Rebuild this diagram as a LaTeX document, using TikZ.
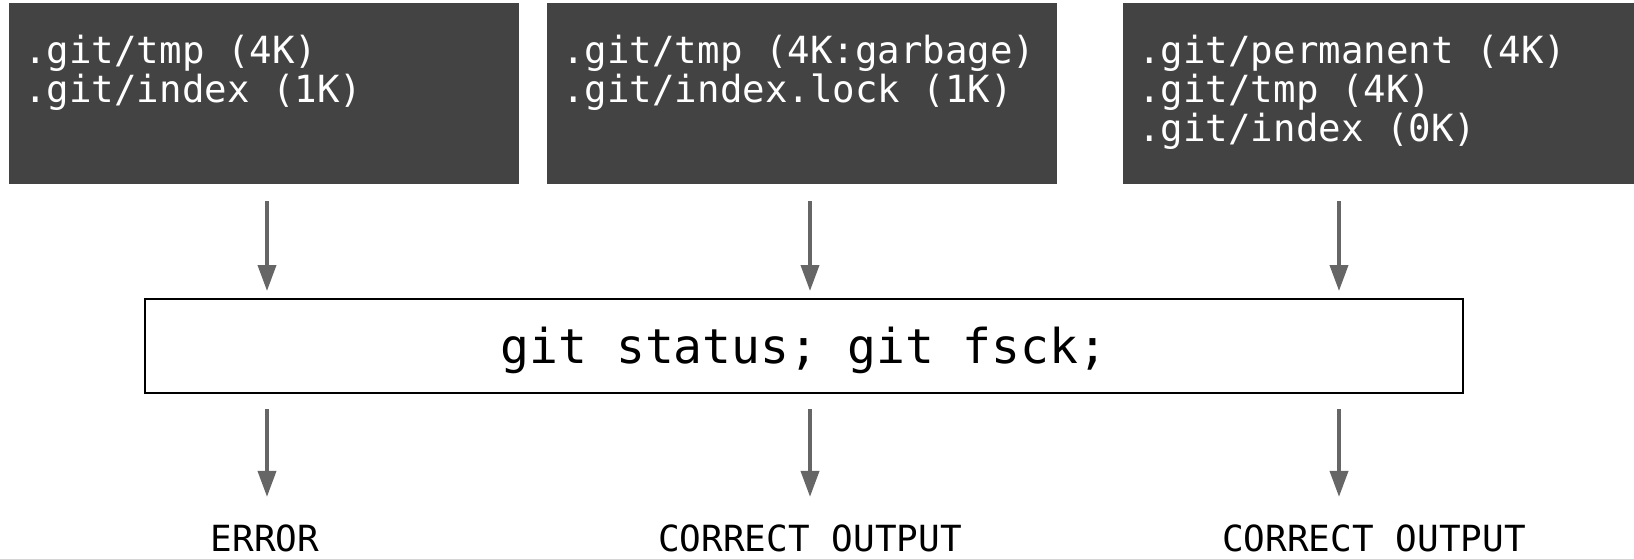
\documentclass[tikz,border=0pt]{standalone}
\usepackage{fontspec}
\setmonofont{DejaVu Sans Mono}
\usetikzlibrary{arrows.meta}
\definecolor{boxgray}{HTML}{434343}
\definecolor{arrowgray}{HTML}{666666}
\tikzset{
  darkbox/.style={fill=boxgray, draw=none, inner sep=0pt, outer sep=0pt, anchor=north west},
  boxtext/.style={text=white, font=\ttfamily\fontsize{18.7}{19.5}\selectfont, align=left, anchor=north west, inner sep=0pt},
  cmdbox/.style={draw=black, line width=0.85pt, fill=white, inner sep=0pt, outer sep=0pt, minimum width=659pt, minimum height=47pt},
  cmdtext/.style={font=\ttfamily\fontsize{24}{28}\selectfont, anchor=base, inner sep=0pt},
  flow/.style={draw=arrowgray, line width=1.9pt, -{Triangle[length=13pt,width=9pt]}},
  outlabel/.style={font=\ttfamily\fontsize{18}{22}\selectfont, anchor=base, inner sep=0pt}
}
\begin{document}
\begin{tikzpicture}[x=0.5pt,y=-0.5pt]
  \useasboundingbox (0,0) rectangle (1634,558);
  % top boxes
  \node[darkbox, minimum width=255pt, minimum height=90.5pt] (b1) at (9,3) {};
  \node[darkbox, minimum width=255pt, minimum height=90.5pt] (b2) at (547,3) {};
  \node[darkbox, minimum width=255.5pt, minimum height=90.5pt] (b3) at (1123,3) {};
  \node[boxtext] (t1) at (24,35) {.git/tmp (4K)\\.git/index (1K)};
  \node[boxtext] (t2) at (562,35) {.git/tmp (4K:garbage)\\.git/index.lock (1K)};
  \node[boxtext] (t3) at (1138,35) {.git/permanent (4K)\\.git/tmp (4K)\\.git/index (0K)};
  % command box
  \node[cmdbox] (cmd) at (804,346) {};
  \node[cmdtext] (cmdt) at (804,363) {git status; git fsck;};
  % output labels
  \node[outlabel] (o1) at (265,551) {ERROR};
  \node[outlabel] (o2) at (810,551) {CORRECT OUTPUT};
  \node[outlabel] (o3) at (1374,551) {CORRECT OUTPUT};
  % arrow columns
  \coordinate (c1) at (267,0);
  \coordinate (c2) at (810,0);
  \coordinate (c3) at (1339,0);
  \draw[flow, shorten <=8.5pt, shorten >=4pt] (b1.south -| c1) -- (cmd.north -| c1);
  \draw[flow, shorten <=8.5pt, shorten >=4pt] (b2.south -| c2) -- (cmd.north -| c2);
  \draw[flow, shorten <=8.5pt, shorten >=4pt] (b3.south -| c3) -- (cmd.north -| c3);
  \draw[flow, shorten <=8pt, shorten >=13.5pt] (cmd.south -| c1) -- (o1.north -| c1);
  \draw[flow, shorten <=8pt, shorten >=13.5pt] (cmd.south -| c2) -- (o2.north -| c2);
  \draw[flow, shorten <=8pt, shorten >=13.5pt] (cmd.south -| c3) -- (o3.north -| c3);
\end{tikzpicture}
\end{document}
